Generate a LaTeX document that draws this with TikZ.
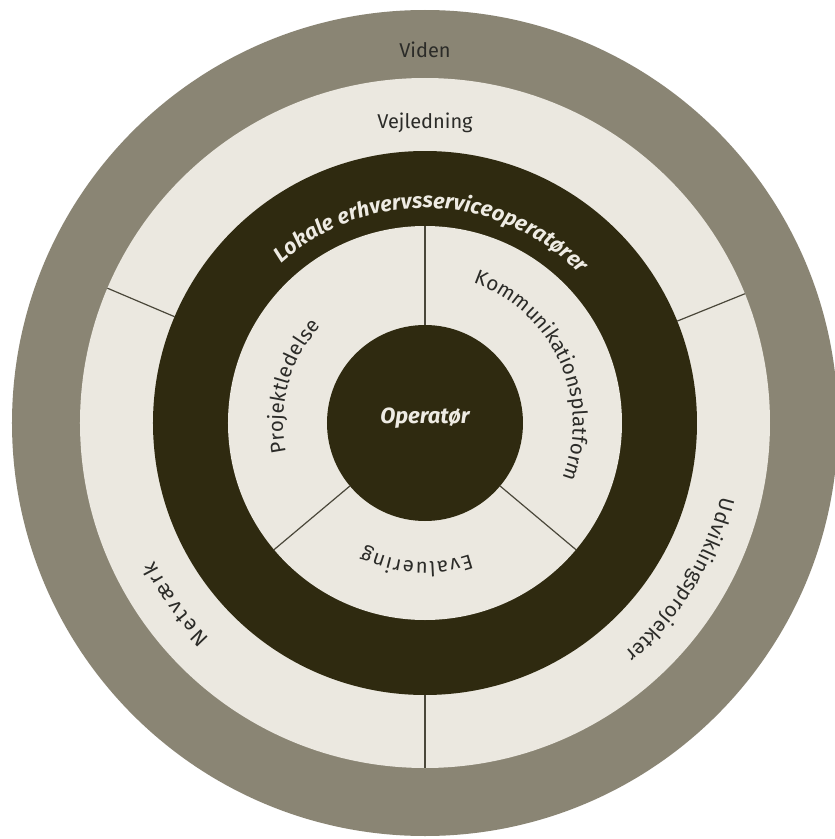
\documentclass[tikz,border=0pt]{standalone}
\usepackage{fontspec}
\setmainfont{Fira Sans}
\usetikzlibrary{decorations.text}
\definecolor{outerc}{HTML}{8A8574}
\definecolor{darkc}{HTML}{2F2A10}
\definecolor{lightc}{HTML}{EBE8E0}
\definecolor{txtc}{HTML}{2B2B28}
\definecolor{linec}{HTML}{4A473A}
\definecolor{paletxt}{HTML}{EEEBE3}
\begin{document}
\begin{tikzpicture}[x=1pt,y=1pt,
  divider/.style={draw=linec, line width=1.2pt},
  flat/.style={text=txtc, font=\fontsize{20}{20}\selectfont, inner sep=0pt}]
\useasboundingbox (-425,-416) rectangle (410,423);
\clip (-425,-416) rectangle (410,423);
\fill[white] (-425,-416) rectangle (410,423);
\fill[outerc] (0,0) circle[radius=413];
\fill[lightc] (0,0) circle[radius=345];
\fill[darkc] (0,0) circle[radius=272];
\fill[lightc] (0,0) circle[radius=197];
\fill[darkc] (0,0) circle[radius=98];
% dividers
\draw[divider] (90:98) -- (90:197);
\draw[divider] (220:98) -- (220:197);
\draw[divider] (320:98) -- (320:197);
\draw[divider] (22:272) -- (22:345);
\draw[divider] (157:272) -- (157:345);
\draw[divider] (270:272) -- (270:345);
% straight labels
\node[flat] (viden) at (0,373) {Viden};
\node[flat] (vejl) at (0,300) {Vejledning};
\node[text=paletxt, font=\fontsize{22}{22}\selectfont\bfseries\itshape] (op) at (0,5) {Operatør};
% curved labels
\path[decorate, decoration={text along path, text align={fit to path},
  text={|\fontsize{21.5}{21.5}\selectfont\bfseries\itshape\color{paletxt}|Lokale erhvervsserviceoperatører}}]
  (132:215) arc[start angle=132, end angle=44, radius=215];
\path[decorate, decoration={text along path, text align={fit to path},
  text={|\fontsize{20.5}{20.5}\selectfont\color{txtc}|Kommunikationsplatform}}]
  (71:148) arc[start angle=71, end angle=-22, radius=148];
\path[decorate, decoration={text along path, text align={fit to path},
  text={|\fontsize{20.5}{20.5}\selectfont\color{txtc}|Projektledelse}}]
  (192:142) arc[start angle=192, end angle=137, radius=142];
\path[decorate, decoration={text along path, text align={fit to path},
  text={|\fontsize{20.5}{20.5}\selectfont\color{txtc}|Evaluering}}]
  (289:139) arc[start angle=289, end angle=244, radius=139];
\path[decorate, decoration={text along path, text align={fit to path},
  text={|\fontsize{21}{21}\selectfont\color{txtc}|Netværk}}]
  (225:304) arc[start angle=225, end angle=207, radius=304];
\path[decorate, decoration={text along path, text align={fit to path},
  text={|\fontsize{20.5}{20.5}\selectfont\color{txtc}|Udviklingsprojekter}}]
  (-14:305) arc[start angle=-14, end angle=-49, radius=305];
\end{tikzpicture}
\end{document}
